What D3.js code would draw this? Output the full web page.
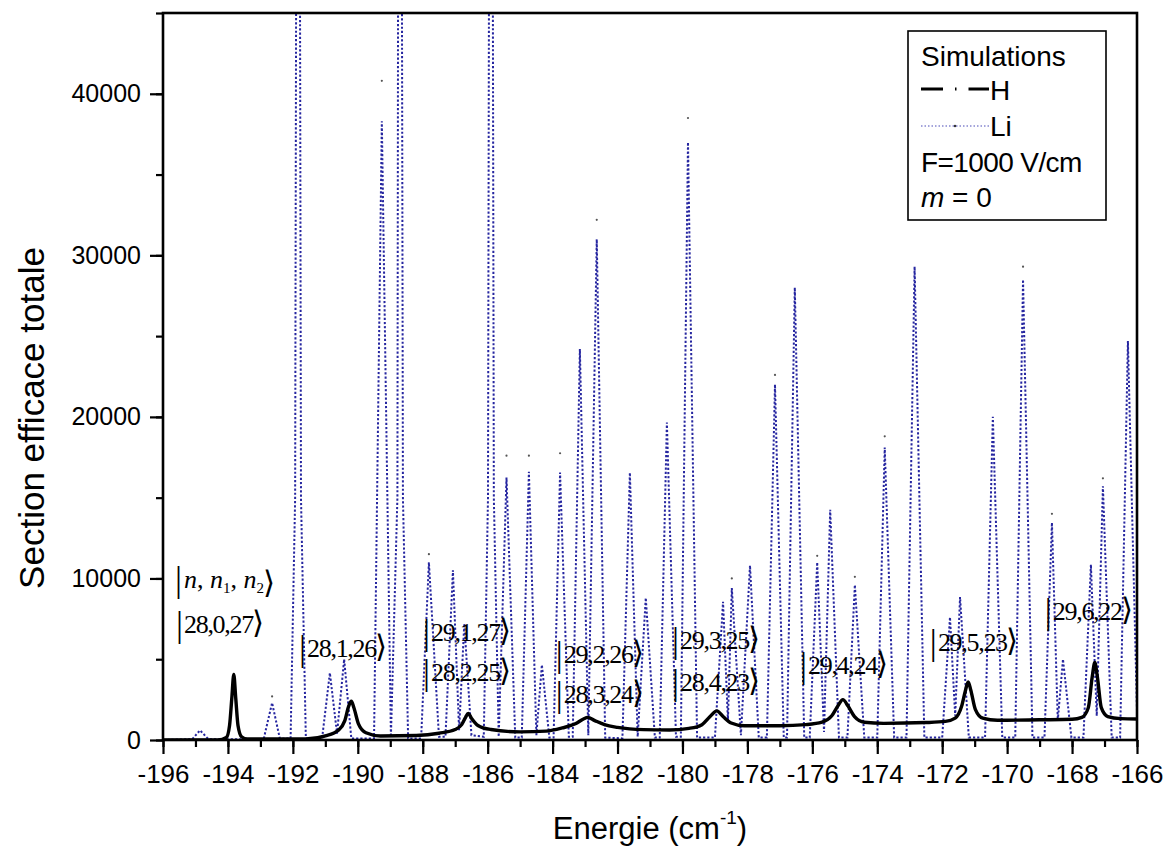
<!DOCTYPE html>
<html><head><meta charset="utf-8">
<script src="https://cdnjs.cloudflare.com/ajax/libs/d3/7.8.5/d3.min.js"></script>
<style>
body{margin:0;background:#fff;}
svg{display:block;}
</style></head>
<body>
<svg id="chart" width="1168" height="850"></svg>
<script>
// ---------------- data ----------------
const xTicksMajor = [-196,-194,-192,-190,-188,-186,-184,-182,-180,-178,-176,-174,-172,-170,-168,-166];
const yTicksMajor = [0,10000,20000,30000,40000];

// H simulation: [energy (cm-1), total cross section]
const hPoints = [
[-196,0],[-194.3,0],[-194.05,150],[-193.95,900],[-193.88,2600],[-193.82,4050],[-193.76,2600],[-193.69,900],[-193.58,200],[-193.4,60],
[-191.6,60],[-191.0,250],[-190.6,600],[-190.4,1200],[-190.28,2100],[-190.2,2400],[-190.12,2000],[-189.98,1000],[-189.75,450],[-189.3,250],
[-188.2,280],[-187.5,420],[-187.0,650],[-186.8,950],[-186.68,1400],[-186.6,1650],[-186.5,1350],[-186.3,900],[-185.9,650],[-185.0,500],
[-184.2,550],[-183.7,750],[-183.3,1000],[-183.05,1300],[-182.92,1400],[-182.7,1200],[-182.4,950],[-182.0,780],[-181.2,640],[-180.4,620],
[-179.8,720],[-179.4,950],[-179.15,1450],[-178.94,1800],[-178.75,1450],[-178.5,1050],[-178.1,880],[-177.0,880],[-176.2,950],[-175.7,1100],
[-175.4,1500],[-175.2,2150],[-175.06,2500],[-174.9,2100],[-174.7,1450],[-174.4,1100],[-173.8,1030],[-172.5,1080],[-171.9,1150],[-171.6,1350],
[-171.4,2100],[-171.28,3100],[-171.2,3600],[-171.12,3100],[-170.98,1900],[-170.75,1350],[-170.3,1220],[-169.0,1250],[-168.0,1280],[-167.7,1400],
[-167.5,2000],[-167.38,3900],[-167.3,4800],[-167.22,3900],[-167.1,2000],[-166.9,1450],[-166.5,1320],[-166,1300]
];

// Li simulation: [energy (cm-1), total cross section]
const liPoints = [
[-196,0],[-195.1,50],[-194.86,600],[-194.6,50],
[-192.9,50],[-192.64,2300],[-192.4,80],
[-192.07,100],[-191.93,15000],[-191.9,46000],[-191.78,46000],[-191.75,15000],[-191.6,100],
[-191.1,100],[-190.86,4150],[-190.64,400],[-190.42,5000],[-190.2,100],
[-189.5,100],[-189.26,38300],[-188.98,200],
[-188.78,15000],[-188.76,46000],[-188.64,46000],[-188.61,15000],[-188.45,100],
[-188.05,100],[-187.81,11000],[-187.5,200],
[-187.3,200],[-187.07,10500],[-186.88,600],
[-186.72,7200],[-186.5,300],
[-186.12,200],[-185.99,15000],[-185.96,46000],[-185.84,46000],[-185.81,15000],[-185.66,200],
[-185.42,16250],[-185.15,150],
[-184.95,150],[-184.73,16600],[-184.5,300],
[-184.33,4650],[-184.1,150],
[-183.97,150],[-183.77,16550],[-183.5,200],
[-183.38,200],[-183.16,24200],[-182.9,300],
[-182.64,31000],[-182.38,150],
[-181.85,100],[-181.62,16550],[-181.38,200],
[-181.13,8800],[-180.85,150],
[-180.7,150],[-180.48,19650],[-180.2,200],
[-180.05,200],[-179.83,37000],[-179.55,150],
[-179.0,150],[-178.75,8550],[-178.6,1200],
[-178.48,9400],[-178.2,300],
[-177.92,10800],[-177.65,150],
[-177.4,150],[-177.15,22000],[-176.88,150],
[-176.78,150],[-176.54,28000],[-176.25,150],
[-176.08,150],[-175.85,11000],[-175.64,500],
[-175.45,14250],[-175.18,150],
[-174.92,150],[-174.69,9600],[-174.4,150],
[-174.0,150],[-173.77,18100],[-173.48,150],
[-173.1,150],[-172.85,29300],[-172.55,150],
[-172.0,150],[-171.76,7600],[-171.6,1500],
[-171.45,8850],[-171.18,150],
[-170.68,150],[-170.44,20000],[-170.15,150],
[-169.75,150],[-169.51,28500],[-169.22,150],
[-168.85,150],[-168.62,13450],[-168.44,1200],
[-168.28,5000],[-168.02,150],
[-167.65,150],[-167.42,10850],[-167.24,1500],
[-167.05,15700],[-166.78,150],
[-166.52,150],[-166.28,24700],[-165.98,150]
];

// sampled-point symbols visible just above some Li peaks
const liMarks = [
[-192.64,2700],[-189.26,40800],[-187.81,11500],[-185.42,17600],[-184.73,17600],[-183.77,17750],
[-182.64,32200],[-179.83,38500],[-178.48,10000],[-177.15,22600],[-175.85,11400],[-174.69,10100],
[-173.77,18800],[-169.51,29300],[-168.62,14000],[-167.05,16200]
];

// state labels |n,n1,n2> : [energy, sigma] of label anchor (left/baseline), text
const ketLabels = [
[-195.6,6640,"28,0,27"],
[-191.81,5150,"28,1,26"],
[-187.99,6140,"29,1,27"],
[-187.99,3660,"28,2,25"],
[-183.9,4780,"29,2,26"],
[-183.9,2300,"28,3,24"],
[-180.32,5650,"29,3,25"],
[-180.32,3040,"28,4,23"],
[-176.38,4100,"29,4,24"],
[-172.38,5520,"29,5,23"],
[-168.84,7440,"29,6,22"]
];
const ketHeader = [-195.63,9430];

// ---------------- chart ----------------
const W = 1168, H = 850;
const m = {left:163, right:31, top:13, bottom:110};
const svg = d3.select("#chart");
const x = d3.scaleLinear().domain([-196,-166]).range([m.left, W-m.right]);
const y = d3.scaleLinear().domain([0,45000]).range([H-m.bottom, m.top]);
const FONT = "'Liberation Sans', Arial, sans-serif";
const SERIF = "'Liberation Serif', 'Times New Roman', serif";

svg.append("defs").append("clipPath").attr("id","clip")
  .append("rect").attr("x",m.left).attr("y",m.top)
  .attr("width",W-m.left-m.right).attr("height",H-m.top-m.bottom);

const plot = svg.append("g").attr("clip-path","url(#clip)");

// Li
plot.append("path").datum(liPoints)
  .attr("fill","none").attr("stroke","#2626a0").attr("stroke-width",2)
  .attr("stroke-dasharray","2.2,2")
  .attr("d", d3.line().x(d=>x(d[0])).y(d=>y(d[1])));
plot.selectAll("circle.mk").data(liMarks).join("circle")
  .attr("cx",d=>x(d[0])).attr("cy",d=>y(d[1])).attr("r",1.1).attr("fill","#555");

// H
plot.append("path").datum(hPoints)
  .attr("fill","none").attr("stroke","#000").attr("stroke-width",3.4)
  .attr("stroke-linejoin","round")
  .attr("d", d3.line().curve(d3.curveMonotoneX).x(d=>x(d[0])).y(d=>y(d[1])));

// axes
const xMinor = d3.range(-196,-165,1);
svg.append("g").attr("transform",`translate(0,${y(0)})`)
  .call(d3.axisBottom(x).tickValues(xMinor).tickSize(7).tickFormat(""))
  .call(g=>g.select(".domain").remove())
  .call(g=>g.selectAll("line").attr("stroke","#000").attr("stroke-width",2.2));
const gx = svg.append("g").attr("transform",`translate(0,${y(0)})`)
  .call(d3.axisBottom(x).tickValues(xTicksMajor).tickSize(14).tickPadding(11).tickFormat(d=>d3.format("d")(d).replace("−","-")))
  .call(g=>g.select(".domain").remove())
  .call(g=>g.selectAll("line").attr("stroke","#000").attr("stroke-width",2.2));
gx.selectAll("text").attr("font-family",FONT).attr("font-size",26).attr("fill","#000");

const yMinor = d3.range(0,45001,5000);
svg.append("g").attr("transform",`translate(${m.left},0)`)
  .call(d3.axisLeft(y).tickValues(yMinor).tickSize(7).tickFormat(""))
  .call(g=>g.select(".domain").remove())
  .call(g=>g.selectAll("line").attr("stroke","#000").attr("stroke-width",2.2));
const gy = svg.append("g").attr("transform",`translate(${m.left},0)`)
  .call(d3.axisLeft(y).tickValues(yTicksMajor).tickSize(13).tickPadding(9).tickFormat(d3.format("d")))
  .call(g=>g.select(".domain").remove())
  .call(g=>g.selectAll("line").attr("stroke","#000").attr("stroke-width",2.2));
gy.selectAll("text").attr("font-family",FONT).attr("font-size",25).attr("fill","#000");

// frame
svg.append("rect").attr("x",m.left).attr("y",m.top)
  .attr("width",W-m.left-m.right).attr("height",H-m.top-m.bottom)
  .attr("fill","none").attr("stroke","#000").attr("stroke-width",2.6);

// axis titles
svg.append("text").attr("transform",`translate(44,418) rotate(-90)`)
  .attr("text-anchor","middle").attr("font-family",FONT).attr("font-size",35)
  .text("Section efficace totale");
const xt = svg.append("text").attr("x",(m.left+W-m.right)/2).attr("y",839)
  .attr("text-anchor","middle").attr("font-family",FONT).attr("font-size",31);
xt.append("tspan").text("Energie (cm");
xt.append("tspan").attr("dy",-15).attr("font-size",19).text("-1");
xt.append("tspan").attr("dy",15).text(")");

// ket labels
function ket(g, px, py, parts){
  const t = g.append("text").attr("x",px).attr("y",py).attr("font-family",SERIF).attr("font-size",26).attr("fill","#000");
  t.append("tspan").attr("font-size",35).attr("dy",3).text("|");
  parts(t);
  t.append("tspan").attr("font-size",31).attr("dx",-1).attr("font-family","'DejaVu Sans', sans-serif").attr("font-weight","200").text("\u27E9");
  return t;
}
const ann = svg.append("g");
ketLabels.forEach(d=>{
  ket(ann, x(d[0]), y(d[1]), t=>t.append("tspan").attr("dy",-3).attr("dx",1).attr("letter-spacing",-1.3).text(d[2]));
});
ket(ann, x(ketHeader[0]), y(ketHeader[1]), t=>{
  t.append("tspan").attr("dy",-3).attr("dx",2).attr("font-style","italic").text("n");
  t.append("tspan").text(", ");
  t.append("tspan").attr("font-style","italic").text("n");
  t.append("tspan").attr("font-size",15).attr("dy",5).text("1");
  t.append("tspan").attr("dy",-5).text(", ");
  t.append("tspan").attr("font-style","italic").text("n");
  t.append("tspan").attr("font-size",15).attr("dy",5).text("2");
  t.append("tspan").attr("dy",-5).text("");
});

// legend
const lg = svg.append("g");
lg.append("rect").attr("x",908).attr("y",31).attr("width",198).attr("height",189)
  .attr("fill","#fff").attr("stroke","#000").attr("stroke-width",1.6);
const lfs = 28;
lg.append("text").attr("x",921).attr("y",66).attr("font-family",FONT).attr("font-size",lfs).text("Simulations");
lg.append("line").attr("x1",921).attr("x2",989).attr("y1",89).attr("y2",89)
  .attr("stroke","#000").attr("stroke-width",3).attr("stroke-dasharray","22,12,1.5,12");
lg.append("text").attr("x",990).attr("y",100).attr("font-family",FONT).attr("font-size",lfs).text("H");
lg.append("line").attr("x1",921).attr("x2",989).attr("y1",126).attr("y2",126)
  .attr("stroke","#4a4ab8").attr("stroke-width",1.2).attr("stroke-dasharray","1.5,2");
lg.append("circle").attr("cx",955).attr("cy",126).attr("r",1.2).attr("fill","#333");
lg.append("text").attr("x",990).attr("y",136).attr("font-family",FONT).attr("font-size",lfs).text("Li");
lg.append("text").attr("x",921).attr("y",172).attr("font-family",FONT).attr("font-size",lfs).attr("letter-spacing",-0.6).text("F=1000 V/cm");
const mt = lg.append("text").attr("x",921).attr("y",207).attr("font-family",FONT).attr("font-size",lfs);
mt.append("tspan").attr("font-style","italic").text("m");
mt.append("tspan").text(" = 0");
</script>
</body></html>
